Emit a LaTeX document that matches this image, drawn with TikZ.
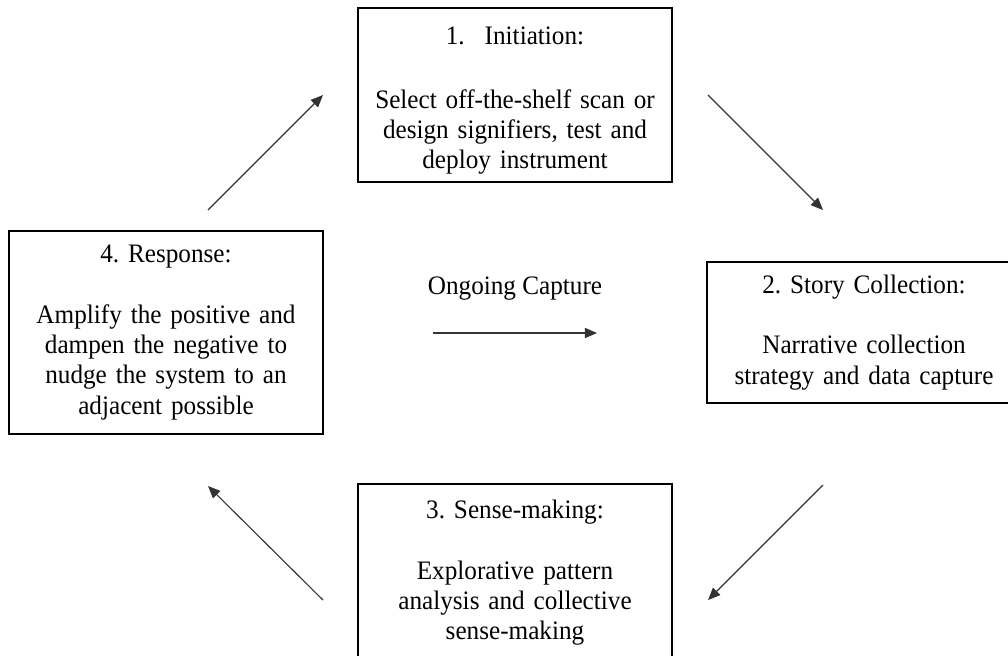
\documentclass[tikz,border=0pt]{standalone}
\usepackage{fontspec}
\setmainfont{Liberation Serif}[FakeStretch=0.945]
\frenchspacing
\usetikzlibrary{arrows.meta}
\tikzset{
  stagebox/.style={draw=black,line width=.9pt,minimum width=141.3pt,text width=135pt,align=center,inner sep=0pt,font=\fontsize{12}{13.6}\selectfont},
  flowarr/.style={-{Triangle[length=5.5pt,width=4.6pt]},line width=.5pt,draw=black!80},
  caption/.style={font=\fontsize{12}{13.6}\selectfont}
}
\begin{document}
\begin{tikzpicture}[x=0.45pt,y=-0.45pt]
\useasboundingbox (0,0) rectangle (1008,655);
\clip (0,0) rectangle (1008,655);
% the four stages
\node[stagebox,minimum height=78.3pt] (init) at (515,95) {\rule{0pt}{13pt}1.\hspace{9pt}Initiation:\\[15pt]Select off-the-shelf scan or\\design signifiers, test and\\deploy instrument};
\node[stagebox,minimum height=63.5pt] (story) at (864,332.5) {2. Story Collection:\\[13.6pt]Narrative collection\\strategy and data capture};
\node[stagebox,minimum height=80.1pt] (sense) at (515,573) {3. Sense-making:\\[13.6pt]Explorative pattern\\analysis and collective\\sense-making};
\node[stagebox,minimum height=91.4pt] (resp) at (166,332.5) {4. Response:\\[13.6pt]Amplify the positive and\\dampen the negative to\\nudge the system to an\\adjacent possible};
\node[caption] (ongoing) at (515,289) {Ongoing Capture};
% arrow ends
\coordinate (tlS) at (208,210); \coordinate (tlE) at (323,95);
\coordinate (trS) at (708,95);  \coordinate (trE) at (823,210);
\coordinate (brS) at (823,485); \coordinate (brE) at (708,600);
\coordinate (blS) at (323,600); \coordinate (blE) at (208,486);
\coordinate (ocS) at (433,333); \coordinate (ocE) at (597,333);
\draw[flowarr] (tlS)--(tlE);
\draw[flowarr] (trS)--(trE);
\draw[flowarr] (brS)--(brE);
\draw[flowarr] (blS)--(blE);
\draw[flowarr] (ocS)--(ocE);
\end{tikzpicture}
\end{document}
